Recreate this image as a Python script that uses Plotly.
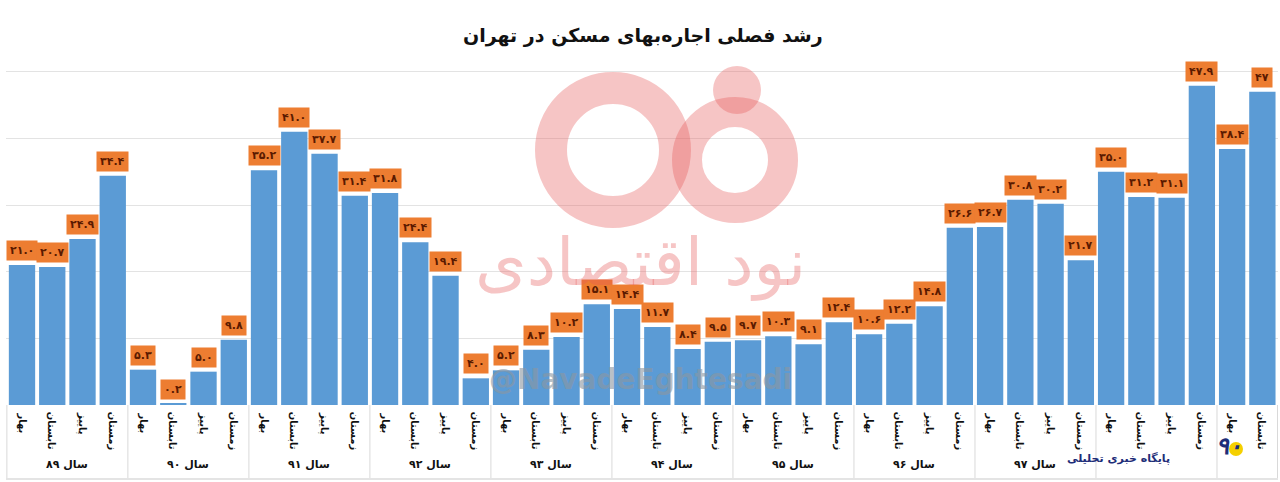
import plotly.graph_objects as go

years = ["۸۹", "۹۰", "۹۱", "۹۲", "۹۳", "۹۴", "۹۵", "۹۶", "۹۷", "۹۸", "۹۹"]
year_labels = ["سال ۸۹", "سال ۹۰", "سال ۹۱", "سال ۹۲", "سال ۹۳", "سال ۹۴",
               "سال ۹۵", "سال ۹۶", "سال ۹۷", "", ""]
seasons = ["بهار", "تابستان", "پاییز", "زمستان"]
season_counts = [4, 4, 4, 4, 4, 4, 4, 4, 4, 4, 2]
values = [21.0, 20.7, 24.9, 34.4,
          5.3, 0.2, 5.0, 9.8,
          35.2, 41.0, 37.7, 31.4,
          31.8, 24.4, 19.4, 4.0,
          5.2, 8.3, 10.2, 15.1,
          14.4, 11.7, 8.4, 9.5,
          9.7, 10.3, 9.1, 12.4,
          10.6, 12.2, 14.8, 26.6,
          26.7, 30.8, 30.2, 21.7,
          35.0, 31.2, 31.1, 47.9,
          38.4, 47]

title = "رشد فصلی اجاره‌بهای مسکن در تهران"
FA = str.maketrans("0123456789", "۰۱۲۳۴۵۶۷۸۹")


def fa_num(v):
    s = str(v) if isinstance(v, int) else f"{v:.1f}"
    return s.translate(FA)


cats = []
season_of = []
for y, n in zip(years, season_counts):
    for s in seasons[:n]:
        cats.append(f"{s} {y}")
        season_of.append(s)

FONT = "DejaVu Sans"
W, H = 1280, 482
L, R, T, B = 6, 2, 5, 77
PW, PH = W - L - R, H - T - B


def px(x):
    return (x - L) / PW


def py(y):
    return (H - B - y) / PH


fig = go.Figure()
fig.add_trace(go.Bar(x=cats, y=values, marker=dict(color="#5b9bd5", line=dict(width=0)),
                     hoverinfo="x+y"))

ann = []
# value labels
for c, v in zip(cats, values):
    ann.append(dict(x=c, y=v, xref="x", yref="y", text=f"<b>{fa_num(v)}</b>",
                    showarrow=False, yanchor="bottom", yshift=4,
                    bgcolor="#ed7d31", borderpad=3,
                    font=dict(family=FONT, size=11, color="#5a1a00")))
# season labels
for c, s in zip(cats, season_of):
    ann.append(dict(x=c, y=0, xref="x", yref="paper", text=f"<b>{s}</b>",
                    showarrow=False, yanchor="top", yshift=-5, textangle=90,
                    font=dict(family=FONT, size=10, color="#111111")))
# year labels + dividers
shapes = []
start = 0
for yl, n in zip(year_labels, season_counts):
    if yl:
        ann.append(dict(x=start + (n - 1) / 2, y=py(465), xref="x", yref="paper",
                        text=f"<b>{yl}</b>", showarrow=False, yanchor="middle",
                        font=dict(family=FONT, size=11, color="#111111")))
    shapes.append(dict(type="line", xref="x", yref="paper", x0=start - 0.5, x1=start - 0.5,
                       y0=0, y1=py(478), line=dict(color="#d9d9d9", width=1)))
    start += n
shapes.append(dict(type="line", xref="x", yref="paper", x0=start - 0.5, x1=start - 0.5,
                   y0=0, y1=py(478), line=dict(color="#d9d9d9", width=1)))
shapes.append(dict(type="line", xref="paper", yref="paper", x0=0, x1=1,
                   y0=py(479), y1=py(479), line=dict(color="#e4e4e4", width=2)))

# title
ann.append(dict(x=px(643), y=py(22), xref="paper", yref="paper", text=f"<b>{title}</b>",
                showarrow=False, font=dict(family=FONT, size=19, color="#111111")))

# watermark logo (approximate)
pink = "rgba(230,90,90,0.35)"


def circle(cx, cy, r, **kw):
    return dict(type="circle", xref="paper", yref="paper",
                x0=px(cx - r), x1=px(cx + r), y0=py(cy + r), y1=py(cy - r), layer="above", **kw)


shapes.append(circle(613, 150, 62, line=dict(color=pink, width=32), fillcolor="rgba(0,0,0,0)"))
shapes.append(circle(735, 160, 48, line=dict(color=pink, width=30), fillcolor="rgba(0,0,0,0)"))
shapes.append(circle(737, 90, 24, line=dict(width=0), fillcolor=pink))
ann.append(dict(x=px(640), y=py(303), xref="paper", yref="paper", text="نود اقتصادی",
                showarrow=False, font=dict(family=FONT, size=66, color="rgba(230,90,90,0.35)")))
ann.append(dict(x=px(640), y=py(398), xref="paper", yref="paper", text="<b>@NavadeEghtesadi</b>",
                showarrow=False, font=dict(family=FONT, size=28, color="rgba(140,150,160,0.6)")))

# bottom-right brand
ann.append(dict(x=px(1172), y=py(467), xref="paper", yref="paper", text="<b>پایگاه خبری تحلیلی</b>",
                showarrow=False, font=dict(family=FONT, size=11, color="#1e2d78")))
ann.append(dict(x=px(1244), y=py(462), xref="paper", yref="paper", text="<b><i>۹۰</i></b>",
                showarrow=False, font=dict(family=FONT, size=24, color="#1e2d78")))
shapes.append(circle(1236, 449, 7, line=dict(width=0), fillcolor="#f5d000"))

fig.update_layout(
    width=W, height=H,
    margin=dict(l=L, r=R, t=T, b=B),
    paper_bgcolor="white", plot_bgcolor="white",
    bargap=0.13, showlegend=False,
    xaxis=dict(type="category", showticklabels=False, showgrid=False, zeroline=False,
               ticks="", showline=False),
    yaxis=dict(range=[0, 60], dtick=10, showticklabels=False, gridcolor="#e3e3e3",
               gridwidth=1, zeroline=False, showline=False),
    annotations=ann, shapes=shapes,
)
fig.write_html("out.html")
